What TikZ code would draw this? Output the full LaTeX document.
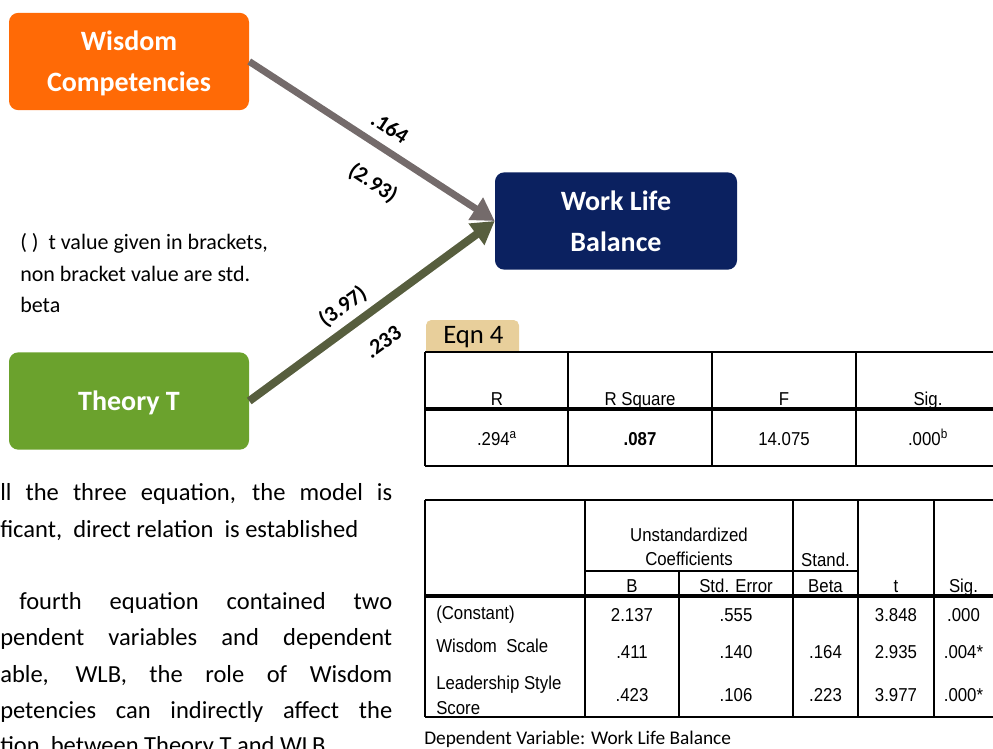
\documentclass[tikz,border=0pt]{standalone}
\usepackage{fontspec}
\setmainfont{Carlito}
\newfontfamily\spssfont{Liberation Sans}[FakeStretch=0.9]
\usetikzlibrary{arrows.meta}

\definecolor{wisdomorange}{HTML}{FF6A06}
\definecolor{theorygreen}{HTML}{6BA22D}
\definecolor{wlbnavy}{HTML}{0B2160}
\definecolor{arrowgrey}{HTML}{746B6B}
\definecolor{arrowolive}{HTML}{575E3E}
\definecolor{eqntan}{HTML}{E8CF9B}

\begin{document}
\begin{tikzpicture}[x=0.75pt,y=-0.75pt,
    varbox/.style={rounded corners=7pt,text=white,align=center,inner sep=0pt,text depth=0pt,
      minimum width=180pt,minimum height=73pt,font=\fontsize{21}{30.5}\selectfont\bfseries},
    coef/.style={inner sep=0pt,font=\fontsize{16.5}{16}\selectfont\bfseries},
    para/.style={anchor=base west,inner sep=0pt,font=\fontsize{18.4}{22}\selectfont},
    cell/.style={anchor=base,inner sep=0pt,font=\spssfont\fontsize{14}{16}\selectfont},
    rowlab/.style={cell,anchor=base west},
    tabrule/.style={line width=1.1pt},
    headrule/.style={line width=2.3pt},
    path arrow/.style={-{Triangle[length=17pt,width=19pt]}}]
  \useasboundingbox (0,0) rectangle (993,749);
  \clip (0,0) rectangle (993,749);

  \node[varbox,fill=wisdomorange] (wisdom) at (129,61.5) {Wisdom\\Competencies};
  \node[varbox,fill=theorygreen] (theory) at (129,401) {Theory T};
  \node[varbox,fill=wlbnavy,minimum width=181.5pt] (wlb) at (616,221) {Work Life\\Balance};

  \draw[path arrow,line width=5.2pt,arrowgrey] (wisdom.east) -- (wlb.west);
  \draw[path arrow,line width=6pt,arrowolive] (theory.east) -- (wlb.west);

  \node[coef,rotate=-33] (beta1) at (390,128) {.164};
  \node[coef,rotate=-33] (tval1) at (373,183) {(2.93)};
  \node[coef,rotate=36] (tval2) at (343,307) {(3.97)};
  \node[coef,rotate=36] (beta2) at (383,342) {.233};

  \node[anchor=north west,align=left,inner sep=0pt,font=\fontsize{16.5}{23.4}\selectfont] (note)
    at (20,233.5) {( )~ t value given in brackets,\\non bracket value are std.\\beta};

  \node[para] (line1) at (0,500) {\makebox[294pt][s]{ll the three equation, the model is}};
  \node[para] (line2) at (0,537) {ficant,\ \ direct relation\ \ is established};
  \node[para] (line3) at (19,609) {\makebox[279.75pt][s]{fourth equation contained two}};
  \node[para] (line4) at (0,645) {\makebox[294pt][s]{pendent variables and dependent}};
  \node[para] (line5) at (0,682) {\makebox[294pt][s]{able, WLB, the role of Wisdom}};
  \node[para] (line6) at (0,718) {\makebox[294pt][s]{petencies can indirectly affect the}};
  \node[para] (line7) at (0,753) {tion\ \ between Theory T and WLB};

  \fill[eqntan,rounded corners=4pt] (426,320) rectangle (519,362);
  \fill[white] (425,352) rectangle (993,466);
  \node[anchor=west,inner sep=0pt,font=\fontsize{20}{22}\selectfont] (eqn) at (443,337.5) {Eqn 4};

  \draw[tabrule] (425,352) -- (993,352) (425,466) -- (993,466);
  \draw[headrule] (425,409) -- (993,409);
  \foreach \x in {425,568,712,856}
    \draw[tabrule] (\x,352) -- (\x,466);

  \node[cell] (hR) at (497,405) {R};
  \node[cell] (hRsq) at (640,405) {R Square};
  \node[cell] (hF) at (784,405) {F};
  \node[cell] (hSig) at (928,405) {Sig.};
  \node[cell] (vR) at (497,445) {.294\textsuperscript{a}};
  \node[cell] (vRsq) at (640,445) {\bfseries .087};
  \node[cell] (vF) at (784,445) {14.075};
  \node[cell] (vSig) at (928,445) {.000\textsuperscript{b}};

  \draw[tabrule] (425,500) -- (993,500) (585,571) -- (858,571) (425,717) -- (993,717);
  \draw[headrule] (425,596) -- (993,596);
  \foreach \x in {425,585,793,858,934}
    \draw[tabrule] (\x,500) -- (\x,717);
  \draw[tabrule] (679,571) -- (679,717);

  \node[cell] (unstd) at (689,541) {Unstandardized};
  \node[cell] (coeffs) at (689,565) {Coefficients};
  \node[cell] (stand) at (825.5,566) {Stand.};
  \node[cell] (hB) at (632,592) {B};
  \node[cell] (hSE) at (736,592) {Std. Error};
  \node[cell] (hBeta) at (825.5,592) {Beta};
  \node[cell] (ht) at (896,592) {t};
  \node[cell] (hSig2) at (963.5,592) {Sig.};

  \node[rowlab] (lconst) at (436,619) {(Constant)};
  \node[rowlab] (lwis) at (436,652) {Wisdom\ \ Scale};
  \node[rowlab] (llead) at (436,689) {Leadership Style};
  \node[rowlab] (lscore) at (436,714) {Score};

  \node[cell] (c1) at (632,621) {2.137};
  \node[cell] (c2) at (736,621) {.555};
  \node[cell] (c4) at (896,621) {3.848};
  \node[cell] (c5) at (963.5,621) {.000};
  \node[cell] (w1) at (632,658) {.411};
  \node[cell] (w2) at (736,658) {.140};
  \node[cell] (w3) at (825.5,658) {.164};
  \node[cell] (w4) at (896,658) {2.935};
  \node[cell] (w5) at (963.5,658) {.004*};
  \node[cell] (s1) at (632,701) {.423};
  \node[cell] (s2) at (736,701) {.106};
  \node[cell] (s3) at (825.5,701) {.223};
  \node[cell] (s4) at (896,701) {3.977};
  \node[cell] (s5) at (963.5,701) {.000*};

  \node[anchor=base west,inner sep=0pt,font=\fontsize{14.5}{16}\selectfont] (depvar)
    at (424,744) {Dependent Variable: Work Life Balance};
\end{tikzpicture}
\end{document}
